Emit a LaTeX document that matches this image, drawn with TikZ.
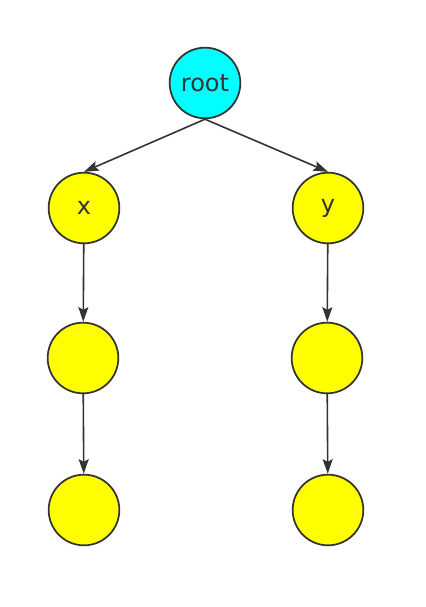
\documentclass[tikz,border=0pt]{standalone}
\usepackage{fontspec}
\setmainfont{DejaVu Sans}
\usepackage{tikz}
\usetikzlibrary{arrows.meta}
\definecolor{tline}{HTML}{333333}
\definecolor{tcyan}{HTML}{00FFFF}
\definecolor{tyellow}{HTML}{FFFF00}
\tikzset{
  vert/.style={circle, draw=tline, line width=1.3pt, fill=tyellow, text=tline,
               minimum size=53pt, inner sep=0pt, font=\fontsize{18}{21}\selectfont},
  rootv/.style={fill=tcyan},
  edge/.style={-{Stealth[length=11pt, width=7.5pt, inset=2pt]}, draw=tline, line width=1.2pt}
}
\begin{document}
\begin{tikzpicture}[x=0.75pt, y=-0.75pt]
  \useasboundingbox (0,0) rectangle (425,607);
  \node[vert, rootv] (root) at (205,83) {root};
  \node[vert] (x) at (84,208) {x};
  \node[vert] (y) at (328,208) {y};
  \node[vert] (x1) at (83,358) {};
  \node[vert] (y1) at (327,358) {};
  \node[vert] (x2) at (84,510) {};
  \node[vert] (y2) at (328,510) {};
  \draw[edge] (root.south) -- (x.north);
  \draw[edge] (root.south) -- (y.north);
  \draw[edge] (x) -- (x1);
  \draw[edge] (y) -- (y1);
  \draw[edge] (x1) -- (x2);
  \draw[edge] (y1) -- (y2);
\end{tikzpicture}
\end{document}
